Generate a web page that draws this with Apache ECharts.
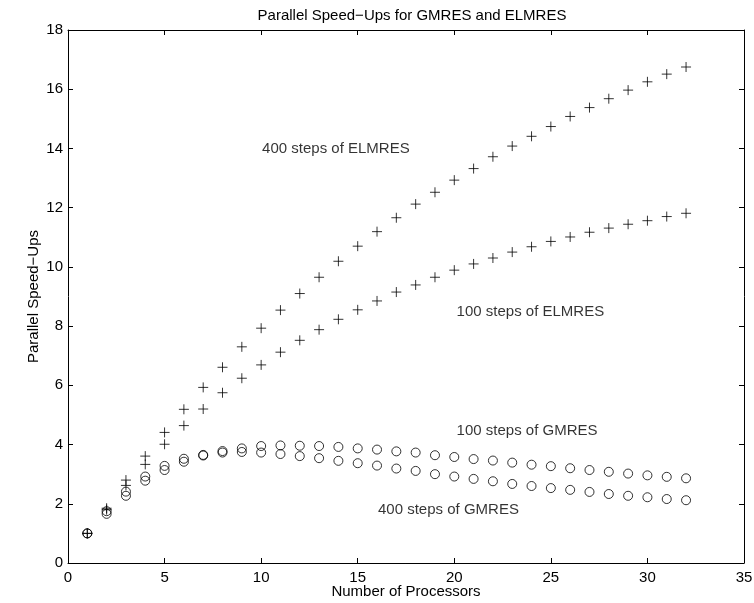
<!DOCTYPE html>
<html>
<head>
<meta charset="utf-8">
<script src="https://cdn.jsdelivr.net/npm/echarts@6/dist/echarts.min.js"></script>
<style>
  html, body { margin: 0; padding: 0; background: #fff; }
  #chart { width: 754px; height: 603px; }
</style>
</head>
<body>
<div id="chart"></div>
<script>
// processors 1..32
var procs = [];
for (var p = 1; p <= 32; p++) procs.push(p);

var elmres400 = [1.0, 1.85, 2.80, 3.61, 4.41, 5.19, 5.93, 6.61, 7.30, 7.93, 8.54, 9.10, 9.65, 10.19, 10.70, 11.19,
  11.66, 12.12, 12.52, 12.93, 13.32, 13.72, 14.08, 14.41, 14.74, 15.08, 15.38, 15.68, 15.97, 16.25, 16.51, 16.75];
var elmres100 = [1.0, 1.80, 2.62, 3.33, 4.01, 4.64, 5.20, 5.75, 6.24, 6.69, 7.12, 7.52, 7.88, 8.23, 8.55, 8.85,
  9.15, 9.39, 9.65, 9.89, 10.10, 10.30, 10.50, 10.68, 10.86, 11.01, 11.17, 11.31, 11.44, 11.56, 11.70, 11.81];
var gmres100 = [1.0, 1.75, 2.41, 2.92, 3.28, 3.52, 3.65, 3.78, 3.87, 3.95, 3.97, 3.96, 3.95, 3.92, 3.87, 3.83,
  3.77, 3.73, 3.64, 3.58, 3.51, 3.46, 3.39, 3.32, 3.27, 3.20, 3.14, 3.08, 3.02, 2.96, 2.91, 2.86];
var gmres400 = [1.0, 1.66, 2.27, 2.78, 3.14, 3.42, 3.63, 3.73, 3.75, 3.73, 3.68, 3.61, 3.54, 3.45, 3.37, 3.29,
  3.19, 3.11, 3.00, 2.92, 2.84, 2.76, 2.67, 2.60, 2.53, 2.47, 2.40, 2.33, 2.27, 2.22, 2.16, 2.12];

// [x, y, text] annotations in data units (left edge of text)
var notes = [
  [10.05, 14.0, '400 steps of ELMRES'],
  [20.12, 8.48, '100 steps of ELMRES'],
  [20.12, 4.47, '100 steps of GMRES'],
  [16.05, 1.79, '400 steps of GMRES']
];

var FONT = 'Liberation Sans, Arial, Helvetica, sans-serif';
var PLUS = 'path://M0,5L10,5M5,0L5,10';

function pairs(ys) {
  return procs.map(function (x, i) { return [x, ys[i]]; });
}

function plusSeries(name, ys) {
  return {
    name: name, type: 'scatter', data: pairs(ys),
    symbol: PLUS, symbolSize: 10,
    itemStyle: { color: 'rgba(0,0,0,0)', borderColor: '#000', borderWidth: 1 },
    silent: true
  };
}
function circleSeries(name, ys) {
  return {
    name: name, type: 'scatter', data: pairs(ys),
    symbol: 'circle', symbolSize: 9,
    itemStyle: { color: 'rgba(0,0,0,0)', borderColor: '#000', borderWidth: 1 },
    silent: true
  };
}

var axisCommon = {
  axisLine: { show: true, onZero: false, lineStyle: { color: '#000', width: 1 } },
  axisTick: { show: true, inside: true, length: 5, lineStyle: { color: '#000' } },
  splitLine: { show: false }
};

var chart = echarts.init(document.getElementById('chart'));
chart.setOption({
  animation: false,
  backgroundColor: '#fff',
  title: {
    text: 'Parallel Speed\u2212Ups for GMRES and ELMRES',
    left: 407, top: 3, textAlign: 'center',
    textStyle: { fontFamily: FONT, fontSize: 15, fontWeight: 'normal', color: '#000' }
  },
  grid: { left: 68, right: 10, top: 30, bottom: 40, containLabel: false, outerBoundsMode: 'none' },
  xAxis: [
    Object.assign({
      type: 'value', min: 0, max: 35, interval: 5, position: 'bottom',
      name: 'Number of Processors', nameLocation: 'middle', nameGap: 21, nameMoveOverlap: false,
      nameTextStyle: { fontFamily: FONT, fontSize: 15, color: '#000' },
      axisLabel: { fontFamily: FONT, fontSize: 15, color: '#000', margin: 7 }
    }, axisCommon),
    Object.assign({
      type: 'value', min: 0, max: 35, interval: 5, position: 'top',
      axisLabel: { show: false }
    }, axisCommon)
  ],
  yAxis: [
    Object.assign({
      type: 'value', min: 0, max: 18, interval: 2, position: 'left',
      name: 'Parallel Speed\u2212Ups', nameLocation: 'middle', nameGap: 27, nameMoveOverlap: false,
      nameTextStyle: { fontFamily: FONT, fontSize: 15, color: '#000' },
      axisLabel: { fontFamily: FONT, fontSize: 15, color: '#000', margin: 5 }
    }, axisCommon),
    Object.assign({
      type: 'value', min: 0, max: 18, interval: 2, position: 'right',
      axisLabel: { show: false }
    }, axisCommon)
  ],
  series: [
    circleSeries('100 steps of GMRES', gmres100),
    circleSeries('400 steps of GMRES', gmres400),
    plusSeries('100 steps of ELMRES', elmres100),
    plusSeries('400 steps of ELMRES', elmres400),
    {
      name: 'notes', type: 'scatter', silent: true,
      data: notes.map(function (n) { return { value: [n[0], n[1]], text: n[2] }; }),
      symbolSize: 0,
      label: {
        show: true, position: 'right', distance: 0,
        fontFamily: FONT, fontSize: 15, color: '#000',
        formatter: function (p) { return p.data.text; }
      }
    }
  ]
});
</script>
</body>
</html>
